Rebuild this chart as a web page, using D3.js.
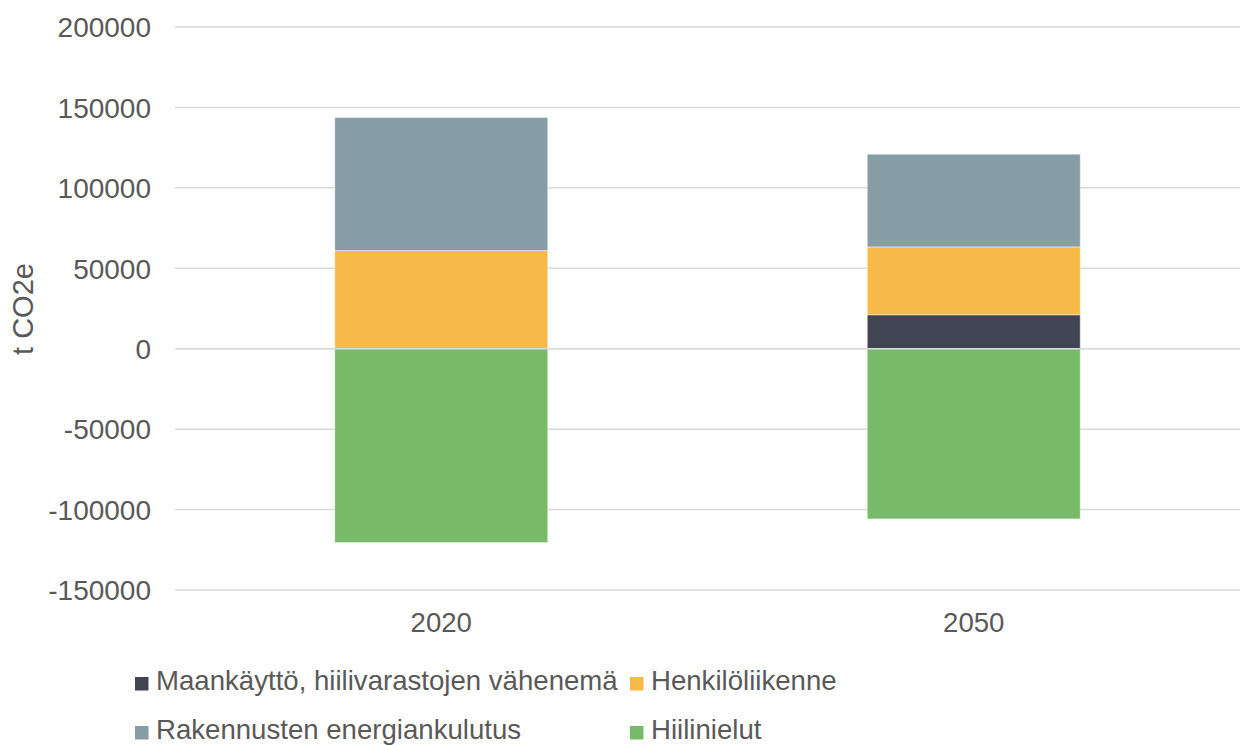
<!DOCTYPE html>
<html>
<head>
<meta charset="utf-8">
<script src="https://cdn.jsdelivr.net/npm/d3@7"></script>
<style>
  html, body { margin: 0; padding: 0; background: #fff; }
  svg { display: block; font-family: "Liberation Sans", Arial, sans-serif; }
</style>
</head>
<body>
<svg id="chart" width="1240" height="745"></svg>
<script>
// Emission sources and sinks per year (t CO2e)
const categories = ["2020", "2050"];
const seriesNames = ["Maankäyttö, hiilivarastojen vähenemä", "Henkilöliikenne", "Rakennusten energiankulutus", "Hiilinielut"];
const maankaytto = [0, 21100];
const henkiloliikenne = [61000, 42200];
const rakennusten = [82700, 57600];
const hiilinielut = [-120500, -105800];
const yTicks = [-150000, -100000, -50000, 0, 50000, 100000, 150000, 200000];
const seriesColors = ["#414453", "#f7ba48", "#879da5", "#77bb6a"];

const rows = categories.map((c, i) => ({
  year: c,
  [seriesNames[0]]: maankaytto[i],
  [seriesNames[1]]: henkiloliikenne[i],
  [seriesNames[2]]: rakennusten[i],
  [seriesNames[3]]: hiilinielut[i]
}));

const svg = d3.select("#chart");
const textColor = "#595959";
const fontSize = 27.6;

const x = d3.scaleBand().domain(categories).range([175, 1240]).padding(0);
const y = d3.scaleLinear().domain([-150000, 200000]).range([590, 27]);
const color = d3.scaleOrdinal().domain(seriesNames).range(seriesColors);

// Horizontal gridlines
svg.append("g")
  .selectAll("line")
  .data(yTicks)
  .join("line")
  .attr("x1", 175).attr("x2", 1240)
  .attr("y1", d => y(d)).attr("y2", d => y(d))
  .attr("stroke", "#d9d9d9").attr("stroke-width", 1.5);

// Stacked bars (positive values upward, sinks downward)
const stacked = d3.stack().keys(seriesNames).offset(d3.stackOffsetDiverging)(rows);
const barW = x.bandwidth() * 0.4;

svg.append("g")
  .selectAll("g")
  .data(stacked)
  .join("g")
  .attr("fill", d => color(d.key))
  .selectAll("rect")
  .data(d => d)
  .join("rect")
  .attr("x", d => x(d.data.year) + (x.bandwidth() - barW) / 2)
  .attr("width", barW)
  .attr("y", d => y(Math.max(d[0], d[1])))
  .attr("height", d => Math.abs(y(d[0]) - y(d[1])))
  .attr("stroke", "rgba(255,255,255,0.45)")
  .attr("stroke-width", 1);

// Zero line drawn over the bars
svg.append("line")
  .attr("x1", 175).attr("x2", 1240)
  .attr("y1", y(0)).attr("y2", y(0))
  .attr("stroke", "#d9d9d9").attr("stroke-width", 1.5);

// Y axis labels (plain hyphen for negatives)
const yAxis = d3.axisLeft(y).tickValues(yTicks).tickSize(0).tickPadding(0)
  .tickFormat(d => String(d));
svg.append("g")
  .attr("transform", "translate(151,0)")
  .call(yAxis)
  .call(g => g.select(".domain").remove())
  .call(g => g.selectAll("text")
    .attr("fill", textColor)
    .attr("font-size", 28)
    .attr("font-family", "Liberation Sans, Arial, sans-serif")
    .attr("dy", "0.35em"));

// X axis labels
const xAxis = d3.axisBottom(x).tickSize(0).tickPadding(0);
svg.append("g")
  .attr("transform", "translate(0,612)")
  .call(xAxis)
  .call(g => g.select(".domain").remove())
  .call(g => g.selectAll("text")
    .attr("fill", textColor)
    .attr("font-size", fontSize)
    .attr("font-family", "Liberation Sans, Arial, sans-serif")
    .attr("dy", "0.71em"));

// Y axis title
svg.append("text")
  .attr("transform", "translate(33,309) rotate(-90)")
  .attr("text-anchor", "middle")
  .attr("fill", textColor)
  .attr("font-size", 29)
  .text("t CO2e");

// Legend: two rows, two columns
const legendCols = [135, 630];
const legendRows = [690, 739];
const legend = svg.append("g")
  .selectAll("g")
  .data(seriesNames)
  .join("g")
  .attr("transform", (d, i) => `translate(${legendCols[i % 2]},${legendRows[Math.floor(i / 2)]})`);

legend.append("rect")
  .attr("x", 0).attr("y", -13)
  .attr("width", 13.5).attr("height", 13.5)
  .attr("fill", d => color(d));

legend.append("text")
  .attr("x", 21)
  .attr("y", 0)
  .attr("fill", textColor)
  .attr("font-size", fontSize)
  .text(d => d);
</script>
</body>
</html>
